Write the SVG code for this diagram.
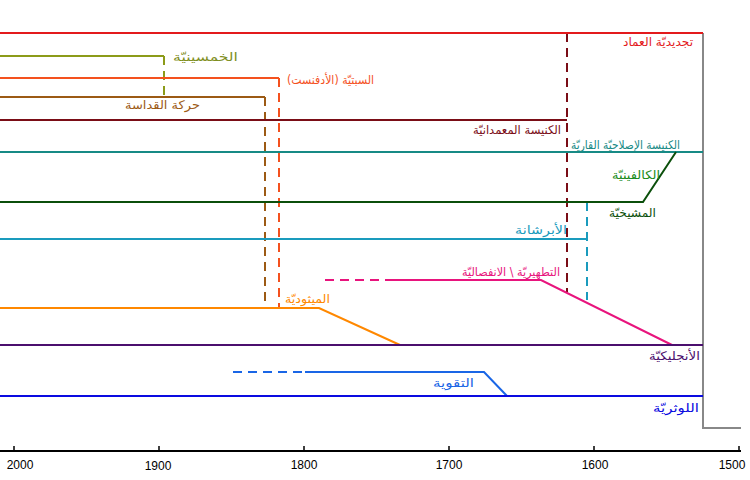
<svg xmlns="http://www.w3.org/2000/svg" width="750" height="480" viewBox="0 0 750 480">
<style>
.l{fill:none;stroke-width:2}
.d{fill:none;stroke-width:2;stroke-dasharray:9,6}
.t{font-family:"DejaVu Sans","Noto Sans",sans-serif;font-size:12px;text-anchor:end}
.ax{font-family:"Liberation Sans",Arial,sans-serif;font-size:12px;text-anchor:middle;fill:#000}
</style>
<rect width="750" height="480" fill="#fff"/>
<g id="connectors">
<polyline class="l" stroke="#888888" points="703,33 703,428 741,428"/>
<path class="d" stroke="#7a0d16" d="M567,33 V292"/>
<path class="d" stroke="#8c9b19" d="M164,56 V97"/>
<path class="d" stroke="#f4511e" d="M279,78 V308"/>
<path class="d" stroke="#9c5a14" d="M265,97 V308"/>
<path class="d" stroke="#1a9bbd" d="M587,202 V300"/>
</g>
<g id="anabaptist"><path class="l" stroke="#e31a1c" d="M0,33 H703"/><text class="t" x="693" y="46" fill="#e31a1c" textLength="70" lengthAdjust="spacingAndGlyphs">تجديديّة العماد</text></g>
<g id="pentecostal"><path class="l" stroke="#8c9b19" d="M0,56 H164"/><text class="t" x="238" y="61" fill="#7f8f1f" font-size="14" textLength="65" lengthAdjust="spacingAndGlyphs">الخمسينيّة</text></g>
<g id="adventist"><path class="l" stroke="#f4511e" d="M0,78 H279"/><text class="t" x="374" y="84" fill="#f4511e" font-size="11" textLength="87" lengthAdjust="spacingAndGlyphs">السبتيّة (الأدفنست)</text></g>
<g id="holiness"><path class="l" stroke="#9c5a14" d="M0,97 H265"/><text class="t" x="200" y="109" fill="#9c5a14" textLength="75" lengthAdjust="spacingAndGlyphs">حركة القداسة</text></g>
<g id="baptist"><path class="l" stroke="#7a0d16" d="M0,120 H567"/><text class="t" x="561" y="134" fill="#7a0d16" textLength="88" lengthAdjust="spacingAndGlyphs">الكنيسة المعمدانيّة</text></g>
<g id="reformed"><path class="l" stroke="#178a85" d="M0,152 H703"/><text class="t" x="680" y="149" fill="#178a85" textLength="109" lengthAdjust="spacingAndGlyphs">الكنيسة الإصلاحيّة القاريّة</text></g>
<g id="presbyterian"><polyline class="l" stroke="#0b4f0b" points="0,202 643,202 676,152"/><text class="t" x="660" y="179" fill="#1a8c1a" textLength="48" lengthAdjust="spacingAndGlyphs">الكالفينيّة</text><text class="t" x="656" y="217" fill="#0b4f0b" textLength="47" lengthAdjust="spacingAndGlyphs">المشيخيّة</text></g>
<g id="bruderhof"><path class="l" stroke="#1a9bbd" d="M0,239 H587"/><text class="t" x="567" y="234" fill="#1a9bbd" textLength="52" lengthAdjust="spacingAndGlyphs">الأبرشانة</text></g>
<g id="puritan"><path class="d" stroke="#e8147d" d="M325,280 H385"/><polyline class="l" stroke="#e8147d" points="385,280 541,280 672,345"/><text class="t" x="560" y="276" fill="#e8147d" textLength="98" lengthAdjust="spacingAndGlyphs">التطهيريّة \ الانفصاليّة</text></g>
<g id="methodist"><polyline class="l" stroke="#ff8800" points="0,308 319,308 400,345"/><text class="t" x="330" y="303" fill="#ff8800" textLength="45" lengthAdjust="spacingAndGlyphs">الميثوديّة</text></g>
<g id="anglican"><path class="l" stroke="#4b0f6e" d="M0,345 H703"/><text class="t" x="700" y="360" fill="#4b0f6e" textLength="51" lengthAdjust="spacingAndGlyphs">الأنجليكيّة</text></g>
<g id="pietism"><path class="d" stroke="#1a66e6" d="M233,372 H305"/><polyline class="l" stroke="#1a66e6" points="305,372 484,372 507,396"/><text class="t" x="474" y="387" fill="#1a66e6" textLength="41" lengthAdjust="spacingAndGlyphs">التقوية</text></g>
<g id="lutheran"><path class="l" stroke="#0a0ae0" d="M0,396 H703"/><text class="t" x="699" y="412" fill="#0a0ae0" textLength="46" lengthAdjust="spacingAndGlyphs">اللوثريّة</text></g>
<g id="axis">
<path class="l" stroke="#000" d="M0,451 H741"/>
<path stroke="#000" stroke-width="1.5" d="M14,446 V451 M159,446 V451 M304,446 V451 M449,446 V451 M594,446 V451 M739,446 V451"/>
<text class="ax" x="20" y="469">2000</text>
<text class="ax" x="158" y="470">1900</text>
<text class="ax" x="304" y="469">1800</text>
<text class="ax" x="449" y="469">1700</text>
<text class="ax" x="595" y="469">1600</text>
<text class="ax" x="732" y="469">1500</text>
</g>
</svg>
